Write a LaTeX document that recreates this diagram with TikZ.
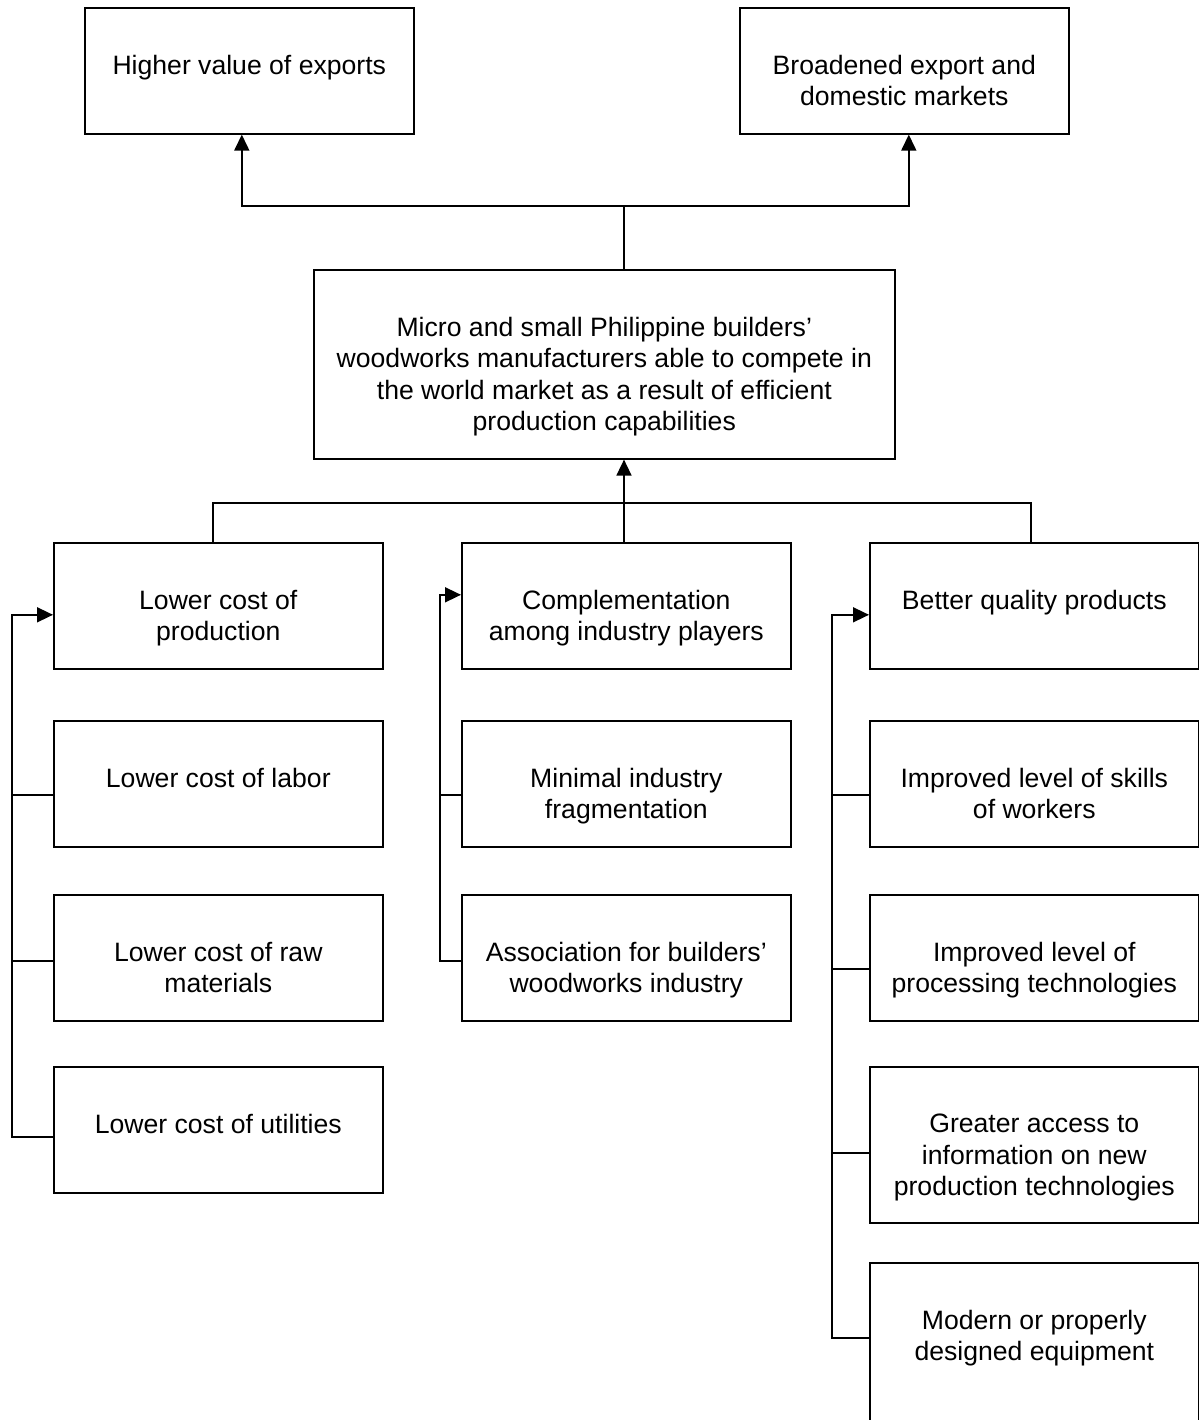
\documentclass[tikz,border=0pt]{standalone}
\usepackage{fontspec}
\setmainfont{Liberation Sans}
\usetikzlibrary{arrows.meta}

\begin{document}
\begin{tikzpicture}[x=0.5pt,y=-0.5pt,
				box/.style={draw,line width=0.8pt,anchor=north west,minimum width=164.5pt,minimum height=63pt,inner sep=0pt},
				txt/.style={anchor=north,yshift=-24pt,align=center,inner sep=0pt,font=\fontsize{13.3pt}{15.6pt}\selectfont},
				link/.style={line width=0.8pt},
				arr/.style={link,-{Triangle[length=8pt,width=7.5pt]}}]
				\useasboundingbox (0,0) rectangle (1199,1420);
				\node[box,label={[txt]north:{Higher value of exports}}] (exports) at (84,7) {};
				\node[box,label={[txt]north:{Broadened export and\\domestic markets}}] (markets) at (739,7) {};
				\node[box,minimum width=290.5pt,minimum height=94.5pt,label={[txt]north:{Micro and small Philippine builders'\\woodworks manufacturers able to compete in\\the world market as a result of efficient\\production capabilities}}] (goal) at (313,269) {};
				\node[box,label={[txt]north:{Lower cost of\\production}}] (lcp) at (53,542) {};
				\node[box,label={[txt]north:{Complementation\\among industry players}}] (cmp) at (461,542) {};
				\node[box,label={[txt]north:{Better quality products}}] (bqp) at (869,542) {};
				\node[box,label={[txt]north:{Lower cost of labor}}] (labor) at (53,720) {};
				\node[box,label={[txt]north:{Lower cost of raw\\materials}}] (rawmat) at (53,894) {};
				\node[box,label={[txt]north:{Lower cost of utilities}}] (util) at (53,1066) {};
				\node[box,label={[txt]north:{Minimal industry\\fragmentation}}] (frag) at (461,720) {};
				\node[box,label={[txt]north:{Association for builders'\\woodworks industry}}] (assoc) at (461,894) {};
				\node[box,label={[txt]north:{Improved level of skills\\of workers}}] (skills) at (869,720) {};
				\node[box,label={[txt]north:{Improved level of\\processing technologies}}] (proc) at (869,894) {};
				\node[box,minimum height=78pt,label={[txt]north:{Greater access to\\information on new\\production technologies}}] (info) at (869,1066) {};
				\node[box,minimum height=81pt,label={[txt]north:{Modern or properly\\designed equipment}}] (equip) at (869,1262) {};
				\coordinate (upbus) at (624,206);
				\coordinate (downbus) at (624,503);
				\draw[link] (goal.north -| upbus) -- (upbus);
				\draw[arr] (upbus) -| ([xshift=-3.75pt]exports.south);
				\draw[arr] (upbus) -| ([xshift=2.25pt]markets.south);
				\draw[arr] (downbus) -- (downbus |- goal.south);
				\draw[link] ([xshift=-2.75pt]lcp.north) |- (downbus) -| ([xshift=-1.75pt]bqp.north);
				\draw[link] (cmp.north -| downbus) -- (downbus);
				\draw[arr] ([yshift=-3.5pt]util.west) -- ++(-20.5pt,0) |- ([yshift=-4.5pt]lcp.west);
				\draw[link] ([yshift=-5.5pt]labor.west) -- ++(-20.5pt,0);
				\draw[link] ([yshift=-1.5pt]rawmat.west) -- ++(-20.5pt,0);
				\draw[arr] ([yshift=-1.5pt]assoc.west) -- ++(-10.5pt,0) |- ([yshift=5.5pt]cmp.west);
				\draw[link] ([yshift=-5.5pt]frag.west) -- ++(-10.5pt,0);
				\draw[arr] ([yshift=3pt]equip.west) -- ++(-18.5pt,0) |- ([yshift=-4.5pt]bqp.west);
				\draw[link] ([yshift=-5.5pt]skills.west) -- ++(-18.5pt,0);
				\draw[link] ([yshift=-5.5pt]proc.west) -- ++(-18.5pt,0);
				\draw[link] ([yshift=-4pt]info.west) -- ++(-18.5pt,0);
				\end{tikzpicture}
\end{document}
